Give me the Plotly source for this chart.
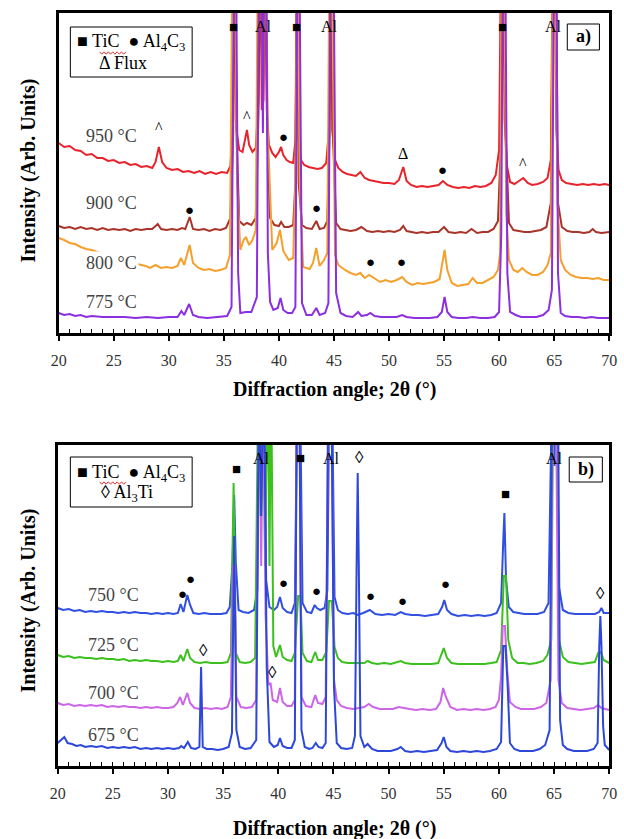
import plotly.graph_objects as go

W, H = 624, 839
SERIF = "Liberation Serif"

# ---------------- Panel a data (2theta, intensity arb.) ----------------
x_950 = [20, 20.5, 21, 21.5, 22, 22.5, 23, 23.5, 24, 24.5, 25, 25.5, 26, 26.5, 27, 27.5, 28, 28.5, 28.8, 29.1, 29.4, 29.8,
         30.3, 30.8, 31.3, 31.8, 32.3, 32.8, 33.3, 33.8, 34.3, 34.8, 35.3, 35.6, 35.85, 36.0, 36.15, 36.4, 36.7, 36.95, 37.1,
         37.3, 37.6, 37.9, 38.15, 38.3, 38.45, 38.6, 38.75, 38.9, 39.1, 39.4, 39.7, 40.0, 40.2, 40.4, 40.7, 41.0, 41.3, 41.5,
         41.65, 41.8, 42.0, 42.3, 42.7, 43.1, 43.5, 43.9, 44.3, 44.55, 44.7, 44.85, 45.1, 45.4, 45.8, 46.2, 46.6, 47.0, 47.4,
         47.8, 48.2, 48.6, 49.0, 49.5, 50.0, 50.5, 50.9, 51.3, 51.6, 52.0, 52.5, 53.0, 53.5, 54.0, 54.5, 54.9, 55.3, 55.8,
         56.3, 56.8, 57.3, 57.8, 58.3, 58.8, 59.3, 59.7, 60.0, 60.2, 60.35, 60.5, 60.7, 61.0, 61.4, 61.8, 62.2, 62.6, 63.0,
         63.5, 64.0, 64.4, 64.7, 64.9, 65.05, 65.2, 65.4, 65.7, 66.1, 66.6, 67.1, 67.6, 68.1, 68.6, 69.1, 69.6, 70.0]
y_950 = [190, 186, 187, 183, 182, 178, 179, 175, 175, 172, 173, 170, 171, 168, 169, 166, 167, 165, 171, 186, 171, 165,
         163, 164, 161, 162, 160, 162, 159, 161, 159, 161, 160, 167, 213, 400, 203, 183, 181, 193, 203,
         188, 181, 185, 233, 400, 223, 233, 400, 223, 188, 180, 176, 181, 186, 178, 173, 171, 170, 193,
         400, 193, 173, 168, 166, 165, 164, 165, 170, 203, 400, 203, 173, 165, 161, 159, 158, 157, 161,
         155, 153, 152, 151, 150, 150, 149, 153, 166, 152, 148, 146, 147, 146, 147, 148, 152, 148, 146,
         145, 146, 145, 147, 146, 147, 150, 158, 183, 400, 400, 213, 168, 151, 149, 152, 155, 150, 148,
         149, 151, 155, 173, 400, 400, 203, 163, 153, 150, 149, 148, 149, 148, 149, 148, 149, 148]

x_900 = [20, 20.5, 21, 21.5, 22, 22.5, 23, 23.5, 24, 24.5, 25, 25.5, 26, 26.5, 27, 27.5, 28, 28.5, 29.0, 29.3, 29.8, 30.3,
         30.8, 31.2, 31.5, 31.9, 32.2, 32.7, 33.2, 33.7, 34.2, 34.7, 35.2, 35.6, 35.85, 36.0, 36.15, 36.4, 36.8, 37.1, 37.5,
         37.9, 38.15, 38.3, 38.5, 38.75, 38.95, 39.2, 39.6, 40.0, 40.2, 40.5, 40.9, 41.3, 41.5, 41.65, 41.8, 42.1, 42.5,
         43.0, 43.4, 43.7, 44.1, 44.4, 44.6, 44.75, 44.9, 45.2, 45.6, 46.0, 46.5, 47.0, 47.5, 48.0, 48.5, 49.0, 49.5, 50.0,
         50.5, 51.0, 51.3, 51.6, 52.0, 52.5, 53.0, 53.5, 54.0, 54.5, 55.0, 55.4, 56.0, 56.5, 57.0, 57.5, 58.0, 58.5, 59.0,
         59.5, 59.9, 60.2, 60.4, 60.6, 60.9, 61.3, 61.8, 62.3, 62.8, 63.3, 63.8, 64.3, 64.7, 64.95, 65.15, 65.35, 65.7,
         66.2, 66.7, 67.2, 67.7, 68.2, 68.5, 68.8, 69.3, 70.0]
y_900 = [107, 105, 106, 104, 106, 104, 105, 103, 105, 103, 104, 103, 104, 102, 104, 103, 104, 104, 109, 104, 103, 104,
         103, 105, 104, 116, 104, 103, 104, 102, 104, 103, 105, 115, 200, 400, 200, 112, 108, 110, 108,
         115, 220, 400, 250, 400, 200, 115, 108, 107, 111, 106, 106, 108, 150, 400, 150, 108, 105,
         104, 112, 104, 105, 112, 200, 400, 200, 110, 104, 103, 102, 103, 106, 102, 101, 102, 101, 102,
         101, 103, 107, 102, 101, 100, 101, 100, 101, 101, 106, 101, 100, 101, 100, 104, 100, 101, 101,
         104, 112, 200, 400, 200, 110, 103, 102, 101, 101, 102, 103, 106, 130, 400, 400, 130, 106,
         102, 101, 101, 100, 101, 104, 101, 100, 101]

x_800 = [20, 20.5, 21, 21.5, 22, 22.5, 23, 23.5, 24, 25, 26, 27, 27.9, 28.3, 28.8, 29.3, 29.8, 30.3, 30.8, 31.1, 31.4,
         31.9, 32.2, 32.7, 33.2, 33.7, 34.2, 34.7, 35.2, 35.55, 35.8, 36.0, 36.2, 36.5, 36.8, 37.0, 37.3, 37.6, 37.9, 38.1,
         38.3, 38.55, 38.8, 39.0, 39.4, 39.8, 40.1, 40.4, 40.9, 41.3, 41.5, 41.7, 41.9, 42.2, 42.8, 43.1, 43.4, 43.7, 44.1,
         44.4, 44.6, 44.8, 45.1, 45.4, 46.0, 46.5, 47.0, 47.4, 47.8, 48.2, 48.6, 49.2, 49.7, 50.2, 50.7, 51.2, 51.6, 52.1,
         52.6, 53.1, 53.6, 54.1, 54.6, 54.9, 55.05, 55.3, 55.7, 56.2, 56.7, 57.2, 57.6, 58.0, 58.5, 59.0, 59.5, 59.9, 60.1,
         60.25, 60.45, 60.65, 60.9, 61.3, 61.7, 62.1, 62.5, 63.0, 63.5, 64.0, 64.4, 64.7, 64.9, 65.1, 65.3, 65.6, 66.0,
         66.5, 67.0, 67.5, 68.0, 68.5, 69.0, 69.5, 70.0]
y_800 = [95, 93, 90, 89, 86, 84, 83, 81, 79, 75, 72, 69, 67, 65, 68, 65, 66, 65, 67, 75, 68,
         88, 70, 65, 63, 64, 62, 63, 65, 78, 400, 400, 150, 83, 93, 96, 88, 93, 103, 400,
         400, 250, 400, 200, 83, 90, 103, 82, 73, 75, 150, 400, 150, 66, 64, 70, 85, 67, 73,
         80, 400, 400, 78, 68, 63, 60, 58, 60, 55, 58, 55, 51, 53, 51, 53, 56, 51, 48,
         50, 49, 50, 51, 54, 73, 83, 63, 50, 47, 48, 49, 55, 50, 50, 53, 56, 63, 80,
         400, 400, 120, 73, 63, 61, 65, 61, 58, 58, 61, 68, 80, 400, 400, 130, 73, 63,
         58, 56, 55, 55, 54, 55, 53, 53]

x_775 = [20, 20.5, 21, 21.5, 22, 22.5, 23, 24, 25, 26, 27, 28, 29, 30, 30.8, 31.15, 31.4, 31.85, 32.2, 32.7, 33.5, 34.5,
         35.3, 35.7, 35.95, 36.1, 36.3, 36.5, 37.0, 37.5, 38.0, 38.2, 38.4, 38.55, 38.7, 38.85, 39.0, 39.2, 39.5, 39.9,
         40.15, 40.4, 40.8, 41.2, 41.5, 41.7, 41.85, 42.1, 42.5, 43.0, 43.4, 43.7, 44.2, 44.5, 44.7, 44.95, 45.2, 45.6,
         46.1, 46.7, 47.2, 47.5, 48.0, 48.3, 48.7, 49.3, 50.0, 50.7, 51.2, 51.6, 52.3, 53.0, 53.7, 54.4, 54.8, 55.05, 55.3,
         55.7, 56.3, 57.0, 57.6, 58.3, 59.0, 59.6, 60.0, 60.2, 60.35, 60.55, 60.75, 61.0, 61.5, 62.0, 62.7, 63.4, 64.0,
         64.5, 64.8, 65.0, 65.2, 65.35, 65.6, 66.0, 66.6, 67.2, 67.8, 68.4, 69.0, 69.6, 70.0]
y_775 = [20, 18, 19, 17, 18, 16, 17, 16, 16, 16, 15, 16, 15, 16, 16, 22, 18, 29, 18, 16, 15, 16,
         17, 26, 400, 400, 60, 20, 21, 21, 36, 400, 400, 200, 400, 400, 80, 31, 23, 25,
         35, 23, 20, 20, 26, 400, 400, 30, 18, 18, 25, 18, 20, 30, 400, 400, 40, 20,
         17, 16, 21, 17, 18, 20, 17, 16, 16, 16, 18, 16, 15, 15, 15, 16, 21, 36, 21,
         16, 15, 15, 16, 15, 15, 16, 21, 100, 400, 400, 60, 21, 18, 16, 16, 16, 18,
         23, 43, 400, 400, 60, 20, 17, 16, 16, 15, 16, 15, 15, 15]

# ---------------- Panel b data ----------------
x_750 = [20, 20.5, 21, 21.5, 22, 22.5, 23, 23.5, 24, 24.5, 25, 25.5, 26, 26.5, 27, 27.5, 28, 28.5, 29, 29.5, 30, 30.5,
         30.9, 31.15, 31.4, 31.75, 32.0, 32.3, 32.8, 33.3, 33.8, 34.3, 34.8, 35.3, 35.6, 35.85, 36.0, 36.15, 36.4, 36.8,
         37.3, 37.8, 38.1, 38.3, 38.5, 38.7, 38.9, 39.2, 39.6, 39.9, 40.15, 40.4, 40.8, 41.2, 41.5, 41.75, 41.95, 42.2,
         42.6, 43.0, 43.3, 43.5, 43.8, 44.2, 44.45, 44.65, 44.85, 45.1, 45.4, 45.8, 46.3, 46.8, 47.2, 47.7, 48.3, 48.8,
         49.4, 50.0, 50.6, 51.1, 51.5, 52.1, 52.7, 53.3, 53.9, 54.5, 54.85, 55.05, 55.3, 55.7, 56.3, 56.9, 57.5, 58.1,
         58.7, 59.3, 59.8, 60.2, 60.4, 60.5, 60.65, 60.9, 61.3, 61.8, 62.3, 62.9, 63.5, 64.1, 64.5, 64.85, 65.05, 65.2,
         65.45, 65.8, 66.3, 66.9, 67.5, 68.1, 68.7, 69.1, 69.3, 69.5, 70.0]
y_750 = [158, 156, 157, 155, 156, 154, 155, 154, 155, 154, 154, 153, 154, 153, 154, 153, 153, 152, 153, 152, 153, 152,
         153, 162, 154, 171, 161, 153, 152, 153, 152, 152, 152, 153, 159, 203, 271, 203, 156, 154,
         153, 156, 176, 400, 300, 400, 186, 159, 156, 159, 169, 158, 154, 153, 163, 400, 400, 163,
         154, 153, 161, 158, 156, 158, 176, 400, 400, 169, 156, 153, 152, 153, 151, 153, 156, 152,
         151, 152, 151, 154, 152, 151, 151, 150, 151, 152, 159, 166, 156, 152, 150, 151, 150, 151,
         150, 151, 153, 163, 226, 253, 186, 159, 154, 153, 152, 152, 152, 154, 163, 400, 300, 400,
         179, 156, 153, 152, 152, 152, 152, 154, 158, 153, 153]

x_725 = [20, 20.5, 21, 21.5, 22, 22.5, 23, 23.5, 24, 24.5, 25, 25.5, 26, 26.5, 27, 27.5, 28, 28.5, 29, 29.5, 30, 30.5,
         30.9, 31.15, 31.4, 31.75, 32.0, 32.4, 32.9, 33.4, 33.9, 34.4, 34.9, 35.4, 35.7, 35.95, 36.15, 36.5, 37.0, 37.5,
         37.9, 38.2, 38.4, 38.6, 38.8, 39.05, 39.2, 39.35, 39.55, 39.8, 40.15, 40.4, 40.8, 41.2, 41.5, 41.8, 42.0, 42.2,
         42.6, 43.0, 43.35, 43.6, 44.0, 44.35, 44.6, 44.85, 45.1, 45.4, 45.8, 46.3, 46.8, 47.3, 47.8, 48.1, 48.5, 49.0,
         49.6, 50.2, 50.8, 51.1, 51.5, 52.1, 52.7, 53.3, 53.9, 54.5, 54.85, 55.0, 55.3, 55.7, 56.3, 56.9, 57.5, 58.1, 58.7,
         59.3, 59.8, 60.2, 60.45, 60.65, 60.85, 61.2, 61.7, 62.2, 62.8, 63.4, 64.0, 64.4, 64.75, 64.95, 65.2, 65.45, 65.8,
         66.3, 66.9, 67.5, 68.1, 68.7, 69.0, 69.25, 69.5, 70.0]
y_725 = [111, 109, 110, 108, 109, 108, 108, 107, 108, 107, 107, 106, 107, 105, 106, 105, 106, 105, 105, 104, 105, 104,
         105, 111, 105, 117, 108, 104, 103, 104, 103, 103, 103, 104, 113, 283, 113, 104, 103, 104,
         108, 400, 250, 400, 200, 400, 200, 400, 120, 109, 121, 109, 106, 105, 113, 170, 170, 113,
         105, 104, 114, 106, 106, 114, 165, 165, 119, 108, 104, 103, 103, 103, 103, 105, 103, 102,
         103, 102, 104, 105, 103, 102, 102, 102, 102, 103, 113, 118, 108, 103, 102, 102, 102, 102, 102,
         103, 104, 116, 190, 190, 126, 108, 103, 103, 102, 103, 105, 111, 126, 400, 400, 126, 109,
         104, 103, 102, 103, 104, 113, 114, 106, 103]

x_700 = [20, 20.5, 21, 21.5, 22, 22.5, 23, 23.5, 24, 24.5, 25, 25.5, 26, 26.5, 27, 27.5, 28, 28.5, 29, 29.5, 30, 30.5,
         30.85, 31.1, 31.35, 31.75, 32.0, 32.4, 32.9, 33.4, 33.9, 34.4, 34.9, 35.4, 35.7, 35.9, 36.05, 36.2, 36.6, 37.1,
         37.6, 38.0, 38.25, 38.45, 38.65, 38.85, 39.1, 39.3, 39.5, 39.9, 40.15, 40.4, 40.8, 41.2, 41.5, 41.7, 41.9, 42.1,
         42.5, 43.0, 43.35, 43.6, 44.0, 44.3, 44.55, 44.8, 45.05, 45.3, 45.7, 46.2, 46.8, 47.3, 47.8, 48.2, 48.6, 49.2,
         49.8, 50.4, 50.9, 51.3, 51.9, 52.5, 53.1, 53.7, 54.3, 54.7, 54.95, 55.2, 55.6, 56.2, 56.8, 57.4, 58.0, 58.6, 59.2,
         59.7, 60.0, 60.2, 60.35, 60.55, 60.75, 61.0, 61.5, 62.0, 62.6, 63.2, 63.8, 64.3, 64.7, 64.9, 65.15, 65.4, 65.7,
         66.2, 66.8, 67.4, 68.0, 68.6, 69.0, 69.3, 70.0]
y_700 = [63, 61, 62, 60, 61, 60, 61, 60, 61, 59, 60, 59, 60, 59, 59, 58, 59, 58, 59, 58, 58, 59,
         63, 69, 61, 73, 63, 58, 57, 58, 57, 58, 57, 59, 69, 200, 200, 69, 59, 58,
         59, 66, 400, 200, 400, 150, 81, 83, 66, 64, 78, 64, 60, 60, 66, 400, 400, 69,
         60, 59, 71, 63, 62, 69, 400, 400, 86, 66, 60, 58, 57, 58, 59, 62, 59, 57,
         57, 57, 59, 58, 57, 56, 57, 56, 57, 64, 78, 69, 59, 56, 57, 56, 57, 56, 57,
         59, 66, 89, 140, 140, 96, 64, 59, 57, 57, 57, 59, 63, 86, 400, 400, 86, 63,
         58, 57, 56, 57, 58, 61, 58, 56]

x_675 = [20, 20.3, 20.6, 20.9, 21.3, 21.7, 22.1, 22.5, 23, 23.5, 24, 24.5, 25, 25.5, 26, 26.5, 27, 27.5, 28, 28.5, 29,
         29.5, 30, 30.5, 31.0, 31.2, 31.45, 31.8, 32.1, 32.5, 32.85, 33.0, 33.15, 33.5, 34.0, 34.5, 35.0, 35.5, 35.8, 36.0,
         36.2, 36.5, 37.0, 37.5, 38.0, 38.25, 38.45, 38.7, 38.95, 39.2, 39.6, 39.95, 40.15, 40.4, 40.8, 41.2, 41.5, 41.7,
         41.9, 42.1, 42.4, 42.8, 43.1, 43.4, 43.65, 44.0, 44.3, 44.55, 44.8, 45.05, 45.3, 45.7, 46.2, 46.7, 46.95, 47.1,
         47.2, 47.3, 47.45, 47.8, 48.1, 48.5, 49.0, 49.6, 50.2, 50.8, 51.1, 51.5, 52.0, 52.6, 53.2, 53.8, 54.4, 54.8, 55.0,
         55.25, 55.6, 56.2, 56.8, 57.4, 58.0, 58.6, 59.2, 59.8, 60.2, 60.4, 60.6, 60.8, 61.0, 61.4, 61.9, 62.5, 63.1, 63.7,
         64.2, 64.6, 64.85, 65.1, 65.35, 65.55, 65.8, 66.2, 66.8, 67.4, 68.0, 68.6, 68.95, 69.1, 69.2, 69.3, 69.45, 69.6,
         70.0]
y_675 = [23, 26, 29, 23, 22, 20, 21, 19, 20, 19, 20, 18, 19, 18, 19, 18, 19, 17, 18, 17, 18,
         17, 18, 17, 18, 20, 18, 24, 18, 17, 19, 99, 19, 17, 17, 16, 17, 19, 33, 230,
         36, 19, 17, 18, 26, 400, 250, 400, 100, 24, 19, 21, 28, 20, 18, 18, 26, 400,
         400, 36, 19, 17, 18, 23, 19, 18, 23, 400, 400, 79, 23, 18, 17, 18, 30, 200,
         293, 200, 30, 19, 22, 17, 15, 15, 15, 17, 19, 15, 14, 15, 14, 15, 16, 23, 29,
         19, 15, 14, 15, 14, 15, 14, 15, 17, 24, 120, 120, 79, 23, 17, 15, 15, 15, 17,
         21, 36, 400, 400, 400, 46, 21, 17, 15, 15, 15, 17, 23, 120, 150, 120, 40, 21,
         16]

# Peak identification labels: (symbol, 2theta, intensity)
marks_a = [("■", 35.9, 306), ("Al", 38.6, 306), ("■", 41.6, 306), ("Al", 44.6, 306), ("■", 60.3, 306), ("Al", 64.9, 306),
           ("^", 29.1, 205), ("^", 37.1, 216), ("●", 40.4, 196), ("Δ", 51.3, 180), ("●", 54.9, 163), ("^", 62.2, 170),
           ("●", 31.9, 123), ("●", 43.4, 125), ("●", 48.3, 71), ("●", 51.1, 71)]
marks_b = [("■", 36.25, 297), ("Al", 38.5, 308), ("■", 42.0, 308), ("Al", 44.8, 308), ("◊", 47.4, 309), ("Al", 65.0, 308),
           ("■", 60.6, 272), ("●", 31.3, 172), ("●", 32.0, 187), ("●", 40.5, 183), ("●", 43.5, 175), ("●", 48.4, 170),
           ("●", 51.3, 165), ("●", 55.2, 182), ("◊", 69.2, 173), ("◊", 33.25, 116), ("◊", 39.5, 94)]

temps_a = ["950 °C", "900 °C", "800 °C", "775 °C"]
temps_b = ["750 °C", "725 °C", "700 °C", "675 °C"]
tick_vals = [20, 25, 30, 35, 40, 45, 50, 55, 60, 65, 70]

colors_a = ["#e8232b", "#a8342a", "#f5a02c", "#8b2fe0"]
colors_b = ["#3150e0", "#3cc01e", "#cc66e6", "#2d48d8"]

fig = go.Figure()
for xs, ys, c, n in zip([x_950, x_900, x_800, x_775], [y_950, y_900, y_800, y_775], colors_a, temps_a):
    fig.add_trace(go.Scatter(x=xs, y=ys, mode="lines", line=dict(color=c, width=2), name=n,
                             xaxis="x", yaxis="y", showlegend=False))
for xs, ys, c, n in zip([x_750, x_725, x_700, x_675], [y_750, y_725, y_700, y_675], colors_b, temps_b):
    fig.add_trace(go.Scatter(x=xs, y=ys, mode="lines", line=dict(color=c, width=2), name=n,
                             xaxis="x2", yaxis="y2", showlegend=False))


def px(x):
    return x / W


def py(y):
    return 1 - y / H


xa_common = dict(range=[20, 70], tickvals=tick_vals, ticks="outside", ticklen=5, tickwidth=1.5, tickcolor="black",
                 showline=True, linecolor="black", linewidth=2.5, mirror=True, showgrid=False, zeroline=False,
                 tickfont=dict(family=SERIF, size=16, color="#333"), ticklabelstandoff=6,
                 ticklabeloverflow="allow",
                 minor=dict(dtick=1, ticks="inside", ticklen=4, tickwidth=1, tickcolor="black"))
ya_common = dict(showline=True, linecolor="black", linewidth=2.5, mirror=True, showgrid=False, zeroline=False,
                 showticklabels=False, ticks="")

fig.update_layout(
    width=W, height=H, margin=dict(l=0, r=0, t=0, b=0),
    paper_bgcolor="white", plot_bgcolor="white",
    xaxis=dict(domain=[px(52), px(617)], anchor="y", **xa_common),
    yaxis=dict(domain=[py(333), py(13)], anchor="x", range=[0, 320], **ya_common),
    xaxis2=dict(domain=[px(51), px(617)], anchor="y2", **xa_common),
    yaxis2=dict(domain=[py(766), py(445)], anchor="x2", range=[0, 321], **ya_common),
)


def txt(x, y, text, size, color="black", **kw):
    d = dict(x=x, y=y, text=text, showarrow=False, xanchor="center", yanchor="middle",
             font=dict(family=SERIF, size=size, color=color))
    d.update(kw)
    return d


SIZES = {"Al": 16, "■": 15, "●": 15, "^": 16, "Δ": 16, "◊": 17}

ann = []
for sym, x, y in marks_a:
    ann.append(txt(x, y, sym, SIZES[sym], xref="x", yref="y"))
for sym, x, y in marks_b:
    ann.append(txt(x, y, sym, SIZES[sym], xref="x2", yref="y2"))

# temperature labels
for t, yy in zip(temps_a, [136, 203, 263, 302]):
    extra = dict(bgcolor="white") if t == "800 °C" else {}
    ann.append(txt(px(106), py(yy), t, 18, "#444", xref="paper", yref="paper", **extra))
for t, yy in zip(temps_b, [595, 645, 693, 735]):
    ann.append(txt(px(108), py(yy), t, 18, "#444", xref="paper", yref="paper"))

P = dict(xref="paper", yref="paper")
ann += [
    txt(px(126), py(43), "■ TiC  ● Al<sub>4</sub>C<sub>3</sub>", 18, **P),
    txt(px(118), py(63), "Δ Flux", 18, **P),
    txt(px(126), py(473), "■ TiC  ● Al<sub>4</sub>C<sub>3</sub>", 18, **P),
    txt(px(122), py(493), "◊ Al<sub>3</sub>Ti", 18, **P),
    txt(px(590.5), py(37), "<b>a)</b>", 18, **P),
    txt(px(593), py(469), "<b>b)</b>", 18, **P),
    txt(px(335), py(389), "<b>Diffraction angle; 2θ (°)</b>", 20, **P),
    txt(px(335), py(828), "<b>Diffraction angle; 2θ (°)</b>", 20, **P),
    txt(px(21), py(170), "<b>Intensity (Arb. Units)</b>", 20, textangle=-90, **P),
    txt(px(21), py(600), "<b>Intensity (Arb. Units)</b>", 20, textangle=-90, **P),
]
fig.update_layout(annotations=ann)

shapes = [
    dict(type="rect", xref="paper", yref="paper", x0=px(64), x1=px(189), y0=py(77), y1=py(27),
         line=dict(color="black", width=1), fillcolor="white", layer="below"),
    dict(type="rect", xref="paper", yref="paper", x0=px(64), x1=px(189), y0=py(507), y1=py(457),
         line=dict(color="black", width=1), fillcolor="white", layer="below"),
    dict(type="rect", xref="paper", yref="paper", x0=px(574), x1=px(607), y0=py(50), y1=py(24),
         line=dict(color="black", width=1)),
    dict(type="rect", xref="paper", yref="paper", x0=px(576), x1=px(610), y0=py(482), y1=py(457),
         line=dict(color="black", width=1)),
]


def squiggle(x0, x1, yc):
    pts = []
    n = 12
    for i in range(n + 1):
        xx = x0 + (x1 - x0) * i / n
        yy = yc + (1.2 if i % 2 else -1.2)
        pts.append((px(xx), py(yy)))
    return "M " + " L ".join(f"{a:.5f},{b:.5f}" for a, b in pts)


for yc in (53, 483):
    shapes.append(dict(type="path", xref="paper", yref="paper", path=squiggle(94, 121, yc),
                       line=dict(color="#e03030", width=1)))
fig.update_layout(shapes=shapes)

fig.write_html("out.html", config={"displayModeBar": False},
               post_script="document.body.style.margin='0';document.body.style.overflow='hidden';")
